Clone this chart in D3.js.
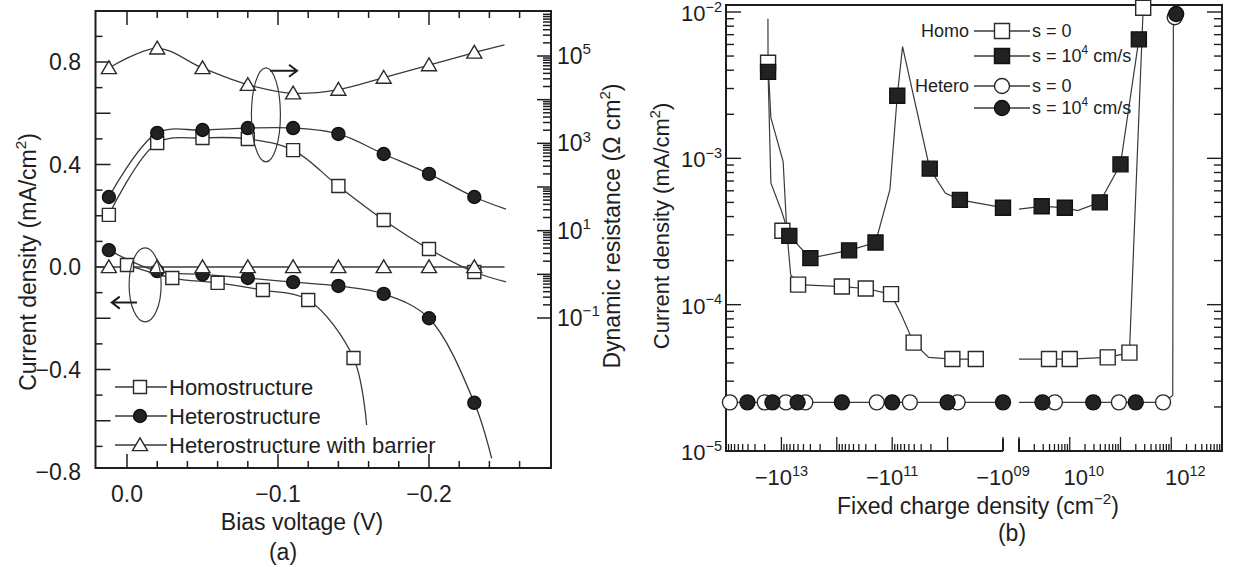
<!DOCTYPE html>
<html>
<head>
<meta charset="utf-8">
<script src="https://cdn.jsdelivr.net/npm/d3@7"></script>
<style>
  body { margin: 0; background: #fff; }
  svg { display: block; font-family: "Liberation Sans", Arial, Helvetica, sans-serif; }
</style>
</head>
<body>
<svg id="chart"></svg>
<script>
// ---------- Panel (a) data ----------
// bias voltage (V) of the markers
const VOLTS = [0.012, -0.02, -0.05, -0.08, -0.11, -0.14, -0.17, -0.2, -0.23];
// dynamic resistance (ohm cm2), right axis
const RES_BARRIER = [5.3e4, 1.5e5, 5.3e4, 2.2e4, 1.4e4, 1.7e4, 3.2e4, 6.2e4, 1.2e5];
const RES_HETERO = [59, 1730, 2020, 2240, 2240, 1640, 570, 200, 59];
const RES_HOMO = [23, 1020, 1330, 1260, 700, 105, 17.6, 3.8, 1.13];
// current density (mA/cm2), left axis
const J_HETERO = [0.066, -0.016, -0.029, -0.043, -0.059, -0.074, -0.105, -0.2, -0.53];
const J_BARRIER = [0, 0, 0, 0, 0, 0, 0, 0, 0];
const VOLTS_HOMO = [0, -0.03, -0.06, -0.09, -0.12, -0.15];
const J_HOMO = [0.008, -0.043, -0.062, -0.09, -0.129, -0.355];
// where each fitted curve runs on past its markers [V, value]
const END_RES_BARRIER = [-0.25, 1.8e5];
const END_RES_HETERO = [-0.251, 31];
const END_RES_HOMO = [-0.251, 0.67];
const END_J_HETERO = [-0.2415, -0.747];
const END_J_HOMO = [-0.1587, -0.617];
const SPAN_J_BARRIER = [0.021, -0.25];

// ---------- Panel (b) data ----------
const HOMO0_X = [-1.74e13, -9.6e12, -5.0e12, -8.1e11, -3.0e11, -1.05e11, -4.1e10, -8.2e9, -3.1e9, 3.9e9, 1.0e10, 5.6e10, 1.5e11, 2.8e11];
const HOMO0_J = [4.5e-3, 3.2e-4, 1.37e-4, 1.33e-4, 1.29e-4, 1.18e-4, 5.5e-5, 4.25e-5, 4.25e-5, 4.25e-5, 4.25e-5, 4.36e-5, 4.7e-5, 1.07e-2];
const HOMO4_X = [-1.74e13, -7.2e12, -3.0e12, -6.0e11, -2.0e11, -8.1e10, -2.1e10, -6.0e9, -1.0e9, 2.8e9, 8.0e9, 3.9e10, 1.0e11, 2.3e11];
const HOMO4_J = [3.9e-3, 2.95e-4, 2.08e-4, 2.35e-4, 2.66e-4, 2.68e-3, 8.5e-4, 5.2e-4, 4.6e-4, 4.7e-4, 4.6e-4, 5.0e-4, 9.1e-4, 6.5e-3];
const HET0_X = [-8.5e13, -2.0e13, -8.3e12, -3.7e12, -1.9e11, -4.8e10, -6.6e9, 5.1e9, 9.3e10, 6.9e11, 1.17e12];
const HET0_J = [2.15e-5, 2.15e-5, 2.15e-5, 2.15e-5, 2.15e-5, 2.15e-5, 2.15e-5, 2.15e-5, 2.15e-5, 2.15e-5, 9.2e-3];
const HET4_X = [-4.1e13, -1.45e13, -5.1e12, -8.1e11, -1.0e11, -1.0e10, -1.0e9, 2.9e9, 2.9e10, 2.0e11, 1.25e12];
const HET4_J = [2.15e-5, 2.15e-5, 2.15e-5, 2.15e-5, 2.15e-5, 2.15e-5, 2.15e-5, 2.15e-5, 2.15e-5, 2.15e-5, 9.7e-3];
// the drawn curves (computed points, joined by straight segments)
const HOMO0_LINE_X = [-1.74e13, -1.55e13, -9.3e12, -8.0e12, -6.8e12, -5.0e12, -8.1e11, -3.0e11, -1.05e11, -6.8e10, -4.1e10, -2.2e10, -8.2e9, -3.1e9, 1.0e9, 3.9e9, 1.0e10, 5.6e10, 1.5e11, 2.8e11];
const HOMO0_LINE_J = [4.5e-3, 1.9e-3, 9.5e-4, 3.2e-4, 1.6e-4, 1.37e-4, 1.33e-4, 1.29e-4, 1.18e-4, 8.5e-5, 5.5e-5, 4.36e-5, 4.25e-5, 4.25e-5, 4.25e-5, 4.25e-5, 4.25e-5, 4.36e-5, 4.7e-5, 1.07e-2];
const HOMO4_LINE_X = [-1.75e13, -1.74e13, -1.55e13, -9.8e12, -7.2e12, -3.0e12, -6.0e11, -2.0e11, -1.1e11, -8.1e10, -6.5e10, -2.1e10, -1.1e10, -6.0e9, -1.0e9, 1.0e9, 2.8e9, 8.0e9, 1.43e10, 3.9e10, 1.0e11, 2.3e11];
const HOMO4_LINE_J = [9.0e-3, 3.9e-3, 6.8e-4, 4.3e-4, 2.95e-4, 2.08e-4, 2.35e-4, 2.66e-4, 6.1e-4, 2.68e-3, 5.8e-3, 8.5e-4, 5.8e-4, 5.2e-4, 4.6e-4, 4.5e-4, 4.7e-4, 4.6e-4, 4.4e-4, 5.0e-4, 9.1e-4, 6.5e-3];
const HET_LINE_X = [-8.5e13, -1.0e9, 1.0e9, 6.9e11, 1.07e12, 1.1e12, 1.2e12];
const HET_LINE_J = [2.15e-5, 2.15e-5, 2.15e-5, 2.15e-5, 2.4e-5, 8.0e-3, 9.5e-3];

// ---------- Setup ----------
const WIDTH = 1233;
const HEIGHT = 567;
const INK = "#1e1e1e";
const LINE = "#3a3a3a";

const svg = d3.select("#chart")
  .attr("width", WIDTH)
  .attr("height", HEIGHT);

svg.append("rect")
  .attr("width", WIDTH)
  .attr("height", HEIGHT)
  .attr("fill", "#fff");

// text with superscripts: parts = [[text, isSup], ...]
function rich(sel, parts, size) {
  let up = false;
  parts.forEach(([t, sup]) => {
    const ts = sel.append("tspan").text(t).attr("font-size", sup ? size * 0.66 : size);
    if (sup && !up) ts.attr("dy", -size * 0.42);
    if (!sup && up) ts.attr("dy", size * 0.42);
    up = sup;
  });
  return sel;
}

function markerPath(shape, s) {
  const h = s / 2;
  if (shape === "square") return `M${-h},${-h}H${h}V${h}H${-h}Z`;
  if (shape === "triangle") return `M0,${-h * 0.95}L${h},${h * 0.75}L${-h},${h * 0.75}Z`;
  return d3.symbol(d3.symbolCircle, Math.PI * h * h)();
}

function drawMarkers(g, pts, shape, filled, size) {
  g.selectAll(null)
    .data(pts)
    .join("path")
    .attr("transform", d => `translate(${d[0]},${d[1]})`)
    .attr("d", markerPath(shape, size))
    .attr("fill", filled ? "#222" : "#fff")
    .attr("stroke", filled ? "#111" : "#2a2a2a")
    .attr("stroke-width", 1.4);
}

function tickLine(g, data, x1, y1, x2, y2, width) {
  g.selectAll(null)
    .data(data)
    .join("line")
    .attr("x1", x1).attr("y1", y1)
    .attr("x2", x2).attr("y2", y2)
    .attr("stroke", INK)
    .attr("stroke-width", width || 1.4);
}

// =================== Panel (a) ===================
const A = { left: 95.5, right: 551, top: 11, bottom: 468 };
const gA = svg.append("g");

const xA = d3.scaleLinear().domain([0, -0.2]).range([127, 429]);
const yA = d3.scaleLinear().domain([0, 0.8]).range([267, 62]);
const rA = d3.scaleLog().domain([1e-1, 1e5]).range([318, 56]);

// ticks along bottom and top
const vTicks = d3.range(0, 14).map(i => ({ v: -i * 0.02, major: i % 5 === 0 }));
tickLine(gA, vTicks, d => xA(d.v), A.bottom, d => xA(d.v), d => A.bottom - (d.major ? 14 : 7), 1.5);
tickLine(gA, vTicks, d => xA(d.v), A.top, d => xA(d.v), d => A.top + (d.major ? 14 : 7), 1.5);

// left linear ticks
const jTicks = d3.range(-7, 10).map(i => ({ v: i / 10, major: i % 2 === 0 }));
tickLine(gA, jTicks, A.left, d => yA(d.v), d => A.left + (d.major ? 15 : 7), d => yA(d.v), 1.5);

// right log ticks
const rTicks = [];
for (let e = -1; e <= 5; e++) {
  for (let k = 1; k <= 9; k++) rTicks.push({ v: k * Math.pow(10, e), major: k === 1 });
}
tickLine(gA, rTicks.filter(d => rA(d.v) > A.top + 2), d => A.right - (d.major ? 14 : 8), d => rA(d.v), A.right, d => rA(d.v), 1.5);

// frame
gA.append("rect")
  .attr("x", A.left).attr("y", A.top)
  .attr("width", A.right - A.left).attr("height", A.bottom - A.top)
  .attr("fill", "none").attr("stroke", INK).attr("stroke-width", 2);

// tick labels
gA.selectAll(null)
  .data([0.8, 0.4, 0, -0.4, -0.8])
  .join("text")
  .attr("x", 81).attr("y", d => yA(d) + 8)
  .attr("text-anchor", "end").attr("font-size", 23).attr("fill", INK)
  .text(d => d3.format(".1f")(d));

gA.selectAll(null)
  .data([0, -0.1, -0.2])
  .join("text")
  .attr("x", d => xA(d)).attr("y", 502)
  .attr("text-anchor", "middle").attr("font-size", 23).attr("fill", INK)
  .text(d => d3.format(".1f")(d));

[[5, "5"], [3, "3"], [1, "1"], [-1, "\u22121"]].forEach(([e, s]) => {
  rich(gA.append("text").attr("x", 557).attr("y", rA(Math.pow(10, e)) + 8).attr("fill", INK),
    [["10", false], [s, true]], 23);
});

// axis titles
gA.append("text")
  .attr("x", 302).attr("y", 530)
  .attr("text-anchor", "middle").attr("font-size", 23).attr("fill", INK)
  .text("Bias voltage (V)");
gA.append("text")
  .attr("x", 283).attr("y", 560)
  .attr("text-anchor", "middle").attr("font-size", 23).attr("fill", INK)
  .text("(a)");
rich(gA.append("text")
  .attr("transform", "translate(36,262) rotate(-90)")
  .attr("text-anchor", "middle").attr("fill", INK),
  [["Current density (mA/cm", false], ["2", true], [")", false]], 23);
rich(gA.append("text")
  .attr("transform", "translate(620,226) rotate(-90)")
  .attr("text-anchor", "middle").attr("fill", INK),
  [["Dynamic resistance (\u03a9 cm", false], ["2", true], [")", false]], 23);

// curves
const curveA = d3.curveCatmullRom.alpha(0.5);
const lineR = d3.line().x(d => xA(d[0])).y(d => rA(d[1])).curve(curveA);
const lineJ = d3.line().x(d => xA(d[0])).y(d => yA(d[1])).curve(curveA);
const zipA = (xs, ys) => xs.map((v, i) => [v, ys[i]]);

const seriesA = [
  { pts: zipA(VOLTS, RES_BARRIER), end: END_RES_BARRIER, line: lineR, y: rA, shape: "triangle", filled: false },
  { pts: zipA(VOLTS, RES_HOMO), end: END_RES_HOMO, line: lineR, y: rA, shape: "square", filled: false },
  { pts: zipA(VOLTS, RES_HETERO), end: END_RES_HETERO, line: lineR, y: rA, shape: "circle", filled: true },
  { pts: zipA(VOLTS_HOMO, J_HOMO), end: END_J_HOMO, line: lineJ, y: yA, shape: "square", filled: false },
  { pts: zipA(VOLTS, J_HETERO), end: END_J_HETERO, line: lineJ, y: yA, shape: "circle", filled: true },
  { pts: zipA(VOLTS, J_BARRIER), end: null, line: lineJ, y: yA, shape: "triangle", filled: false }
];

// flat zero line of the barrier device
gA.append("path")
  .attr("d", d3.line().x(d => xA(d)).y(yA(0))(SPAN_J_BARRIER))
  .attr("fill", "none").attr("stroke", LINE).attr("stroke-width", 1.3);

seriesA.forEach(s => {
  if (!s.end) return;
  gA.append("path")
    .attr("d", s.line(s.pts.concat([s.end])))
    .attr("fill", "none").attr("stroke", LINE).attr("stroke-width", 1.3);
});

seriesA.forEach(s => {
  const size = s.shape === "triangle" ? 15 : 13;
  drawMarkers(gA, s.pts.map(d => [xA(d[0]), s.y(d[1])]), s.shape, s.filled, size);
});

// grouping ellipses and arrows
function annot(g, cx, cy, rx, ry, ax1, ax2, ay) {
  g.append("ellipse")
    .attr("cx", cx).attr("cy", cy).attr("rx", rx).attr("ry", ry)
    .attr("fill", "none").attr("stroke", LINE).attr("stroke-width", 1.2);
  const dir = ax2 > ax1 ? 1 : -1;
  g.append("path")
    .attr("d", `M${ax1},${ay}H${ax2}M${ax2 - dir * 8},${ay - 6}L${ax2},${ay}L${ax2 - dir * 8},${ay + 6}`)
    .attr("fill", "none").attr("stroke", INK).attr("stroke-width", 2);
}
annot(gA, xA(-0.092), yA(0.594), 14.5, 47, xA(-0.0947), xA(-0.1126), yA(0.766));
annot(gA, xA(-0.012), yA(-0.07), 16, 37, xA(-0.0066), xA(0.0101), yA(-0.139));

// legend
const legendA = [
  { label: "Homostructure", shape: "square", filled: false, size: 13 },
  { label: "Heterostructure", shape: "circle", filled: true, size: 13 },
  { label: "Heterostructure with barrier", shape: "triangle", filled: false, size: 15 }
];
legendA.forEach((d, i) => {
  const y = 387 + i * 29;
  gA.append("line").attr("x1", 115).attr("x2", 167).attr("y1", y).attr("y2", y)
    .attr("stroke", LINE).attr("stroke-width", 1.3);
  drawMarkers(gA, [[140, y]], d.shape, d.filled, d.size);
  gA.append("text").attr("x", 169).attr("y", y + 8)
    .attr("font-size", 22).attr("fill", INK).text(d.label);
});

// =================== Panel (b) ===================
const B = { left: 726, right: 1222, top: 5, bottom: 451, gapL: 1003, gapR: 1019 };
const gB = svg.append("g");

const xNeg = d3.scaleLog().domain([1e14, 1e9]).range([B.left, B.gapL]);
const xPos = d3.scaleLog().domain([1e9, 1e13]).range([B.gapR, B.right]);
const xB = v => (v < 0 ? xNeg(-v) : xPos(v));
const yB = d3.scaleLog().domain([1e-5, 1e-2]).range([451, 12]);

// bottom ticks on both halves of the broken axis
const negTicks = [];
for (let e = 9; e <= 13; e++) {
  for (let k = 1; k <= 9; k++) {
    if (e === 9 && k > 1) continue;
    negTicks.push({ v: -k * Math.pow(10, e), major: k === 1 });
  }
}
const posTicks = [];
for (let e = 9; e <= 12; e++) {
  for (let k = 1; k <= 9; k++) posTicks.push({ v: k * Math.pow(10, e), major: k === 1 });
}
tickLine(gB, negTicks.concat(posTicks), d => xB(d.v), B.bottom, d => xB(d.v), d => B.bottom - (d.major ? 14 : 7), 1.3);

// left and right log ticks
const jbTicks = [{ v: 1e-2, major: true }];
for (let e = -5; e <= -3; e++) {
  for (let k = 1; k <= 9; k++) {
    if (e === -5 && k === 1) continue;
    jbTicks.push({ v: k * Math.pow(10, e), major: k === 1 });
  }
}
tickLine(gB, jbTicks, B.left, d => yB(d.v), d => B.left + (d.major ? 15 : 8), d => yB(d.v), 1.4);
tickLine(gB, jbTicks, d => B.right - (d.major ? 15 : 8), d => yB(d.v), B.right, d => yB(d.v), 1.4);

// frame with the gap in the bottom axis
gB.append("path")
  .attr("d", `M${B.gapL},${B.bottom}H${B.left}V${B.top}H${B.right}V${B.bottom}H${B.gapR}V${B.bottom - 12}`)
  .attr("fill", "none").attr("stroke", INK).attr("stroke-width", 2);
gB.append("path")
  .attr("d", `M${B.gapL},${B.bottom}V${B.bottom - 12}`)
  .attr("fill", "none").attr("stroke", INK).attr("stroke-width", 2);

// tick labels
[[-2, "\u22122"], [-3, "\u22123"], [-4, "\u22124"], [-5, "\u22125"]].forEach(([e, s]) => {
  rich(gB.append("text").attr("x", 722).attr("y", yB(Math.pow(10, e)) + 9)
    .attr("text-anchor", "end").attr("fill", INK),
    [["10", false], [s, true]], 22);
});
[[-1e13, "\u221210", "13"], [-1e11, "\u221210", "11"], [-1e9, "\u221210", "09"]].forEach(([v, b, s]) => {
  rich(gB.append("text").attr("x", xB(v)).attr("y", 485)
    .attr("text-anchor", "middle").attr("fill", INK),
    [[b, false], [s, true]], 22);
});
[[1e10, "10"], [1e12, "12"]].forEach(([v, s]) => {
  rich(gB.append("text").attr("x", xB(v) + 14).attr("y", 485)
    .attr("text-anchor", "middle").attr("fill", INK),
    [["10", false], [s, true]], 22);
});

// axis titles
rich(gB.append("text")
  .attr("x", 978).attr("y", 514)
  .attr("text-anchor", "middle").attr("fill", INK),
  [["Fixed charge density (cm", false], ["\u22122", true], [")", false]], 23);
gB.append("text")
  .attr("x", 1012).attr("y", 541)
  .attr("text-anchor", "middle").attr("font-size", 23).attr("fill", INK)
  .text("(b)");
rich(gB.append("text")
  .attr("transform", "translate(669,226) rotate(-90)")
  .attr("text-anchor", "middle").attr("fill", INK),
  [["Current density (mA/cm", false], ["2", true], [")", false]], 22);

// curves, drawn separately on each side of the break
const lineB = d3.line().x(d => xB(d[0])).y(d => yB(d[1]));
function drawSplit(xs, ys) {
  const pts = xs.map((v, i) => [v, ys[i]]);
  [pts.filter(d => d[0] < 0), pts.filter(d => d[0] > 0)].forEach(part => {
    gB.append("path")
      .attr("d", lineB(part))
      .attr("fill", "none").attr("stroke", LINE).attr("stroke-width", 1.2);
  });
}
drawSplit(HET_LINE_X, HET_LINE_J);
drawSplit(HOMO0_LINE_X, HOMO0_LINE_J);
drawSplit(HOMO4_LINE_X, HOMO4_LINE_J);

const zipB = (xs, ys) => xs.map((v, i) => [xB(v), yB(ys[i])]);
drawMarkers(gB, zipB(HET0_X, HET0_J), "circle", false, 15);
drawMarkers(gB, zipB(HET4_X, HET4_J), "circle", true, 15);
drawMarkers(gB, zipB(HOMO0_X, HOMO0_J), "square", false, 15);
drawMarkers(gB, zipB(HOMO4_X, HOMO4_J), "square", true, 15);

// legend
const legendB = [
  { group: "Homo", label: "s = 0", shape: "square", filled: false, y: 31 },
  { group: "", label: "s = 10|4| cm/s", shape: "square", filled: true, y: 56 },
  { group: "Hetero", label: "s = 0", shape: "circle", filled: false, y: 86 },
  { group: "", label: "s = 10|4| cm/s", shape: "circle", filled: true, y: 108 }
];
legendB.forEach(d => {
  gB.append("line").attr("x1", 974).attr("x2", 1030).attr("y1", d.y).attr("y2", d.y)
    .attr("stroke", LINE).attr("stroke-width", 1.3);
  drawMarkers(gB, [[1002, d.y]], d.shape, d.filled, 15);
  if (d.group) {
    gB.append("text").attr("x", 969).attr("y", d.y + 6)
      .attr("text-anchor", "end").attr("font-size", 18).attr("fill", INK).text(d.group);
  }
  const bits = d.label.split("|");
  const parts = bits.length > 1 ? [[bits[0], false], [bits[1], true], [bits[2], false]] : [[bits[0], false]];
  rich(gB.append("text").attr("x", 1032).attr("y", d.y + 6).attr("fill", INK), parts, 18);
});
</script>
</body>
</html>
